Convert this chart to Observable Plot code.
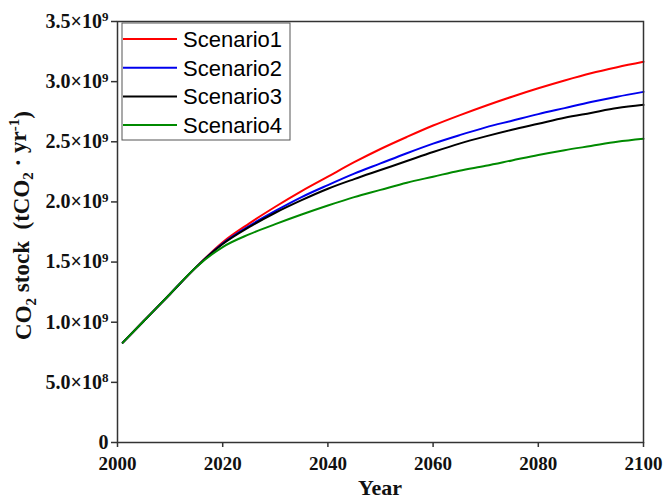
<!DOCTYPE html>
<html>
<head>
<meta charset="utf-8">
<script src="https://cdn.jsdelivr.net/npm/d3@7"></script>
<script src="https://cdn.jsdelivr.net/npm/@observablehq/plot@0.6"></script>
<style>
  html, body { margin: 0; padding: 0; background: #fff; }
  #chart svg { display: block; }
</style>
</head>
<body>
<div id="chart"></div>
<script>
// Data (CO2 stock, in units of 1e9 tCO2)
const years = [2001, 2005, 2010, 2015, 2020, 2025, 2030, 2035, 2040, 2045, 2050, 2055, 2060, 2065, 2070, 2075, 2080, 2085, 2090, 2095, 2100];
const scenario1 = [0.83, 1.01, 1.235, 1.46, 1.665, 1.82, 1.96, 2.09, 2.21, 2.33, 2.44, 2.54, 2.635, 2.72, 2.80, 2.875, 2.945, 3.01, 3.07, 3.12, 3.165];
const scenario2 = [0.83, 1.01, 1.235, 1.46, 1.655, 1.80, 1.925, 2.04, 2.14, 2.235, 2.32, 2.405, 2.485, 2.555, 2.62, 2.675, 2.73, 2.78, 2.83, 2.875, 2.915];
const scenario3 = [0.83, 1.01, 1.235, 1.46, 1.65, 1.79, 1.91, 2.015, 2.11, 2.19, 2.265, 2.34, 2.415, 2.485, 2.545, 2.60, 2.65, 2.70, 2.74, 2.78, 2.807];
const scenario4 = [0.83, 1.01, 1.235, 1.46, 1.625, 1.73, 1.815, 1.895, 1.97, 2.04, 2.10, 2.16, 2.21, 2.26, 2.30, 2.345, 2.39, 2.43, 2.465, 2.50, 2.525];
const seriesNames = ["Scenario1", "Scenario2", "Scenario3", "Scenario4"];
const seriesColors = ["#ff0000", "#0000ee", "#000000", "#008a00"];
const yTicks = [0, 0.5e9, 1.0e9, 1.5e9, 2.0e9, 2.5e9, 3.0e9, 3.5e9];
const yTickLabels = ["0", "5.0×10|8", "1.0×10|9", "1.5×10|9", "2.0×10|9", "2.5×10|9", "3.0×10|9", "3.5×10|9"];
const xTicks = [2000, 2020, 2040, 2060, 2080, 2100];

const allSeries = [scenario1, scenario2, scenario3, scenario4];
const table = [];
allSeries.forEach((vals, si) => {
  vals.forEach((v, i) => table.push({year: years[i], value: v * 1e9, series: seriesNames[si]}));
});

const W = 663, H = 502;
const mL = 117, mR = 20, mT = 21, mB = 60;
const serif = "'Liberation Serif', 'Times New Roman', serif";
const sans = "'Liberation Sans', Arial, sans-serif";

const plot = Plot.plot({
  width: W,
  height: H,
  marginLeft: mL,
  marginRight: mR,
  marginTop: mT,
  marginBottom: mB,
  style: {background: "#fff", overflow: "visible"},
  x: {domain: [2000, 2100]},
  y: {domain: [0, 3.5e9]},
  color: {domain: seriesNames, range: seriesColors},
  marks: [
    Plot.axisX({
      ticks: xTicks, tickFormat: d => String(d), tickSize: 5, tickPadding: 9,
      fontSize: 19, fontWeight: "bold", fontFamily: serif, fill: "#111",
      stroke: "#333", strokeWidth: 1.5, label: null
    }),
    Plot.axisY({
      ticks: yTicks, tickFormat: d => yTickLabels[yTicks.indexOf(d)], tickSize: 6, tickPadding: 3,
      fontSize: 20, fontWeight: "bold", fontFamily: serif, fill: "#111",
      stroke: "#333", strokeWidth: 1.5, label: null
    }),
    Plot.line(table, {x: "year", y: "value", stroke: "series", z: "series", strokeWidth: 2, curve: "monotone-x"}),
    Plot.frame({stroke: "#333", strokeWidth: 1.5})
  ]
});

document.getElementById("chart").appendChild(plot);
const svg = d3.select(plot);

// Superscript exponents in y tick labels
svg.selectAll("text").each(function() {
  const t = d3.select(this);
  const txt = this.textContent;
  if (txt.includes("|")) {
    const [base, exp] = txt.split("|");
    const tspans = t.selectAll("tspan");
    let target = tspans.empty() ? t : d3.select(tspans.nodes()[0]);
    target.text(base);
    target.append("tspan").attr("dy", "-0.5em").attr("font-size", 13).text(exp);
  }
});

// Y axis title
const yTitle = svg.append("text")
  .attr("transform", `translate(31,${(mT + H - mB) / 2 - 6}) rotate(-90)`)
  .attr("text-anchor", "middle")
  .attr("font-family", serif)
  .attr("font-weight", "bold")
  .attr("font-size", 23)
  .attr("fill", "#111");
yTitle.append("tspan").text("CO");
yTitle.append("tspan").attr("font-size", 15).attr("dy", "0.3em").text("2");
yTitle.append("tspan").attr("dy", "-0.3em").text(" stock  (tCO");
yTitle.append("tspan").attr("font-size", 15).attr("dy", "0.3em").text("2");
yTitle.append("tspan").attr("dy", "-0.3em").text(" · yr");
yTitle.append("tspan").attr("font-size", 15).attr("dy", "-0.5em").text("-1");
yTitle.append("tspan").attr("dy", "0.5em").text(")");

// X axis title
svg.append("text")
  .attr("x", mL + (W - mL - mR) / 2)
  .attr("y", H - 7)
  .attr("text-anchor", "middle")
  .attr("font-family", serif)
  .attr("font-weight", "bold")
  .attr("font-size", 22)
  .attr("fill", "#111")
  .text("Year");

// Legend
const lg = svg.append("g").attr("text-anchor", "start");
lg.append("rect")
  .attr("x", mL + 5).attr("y", mT + 2)
  .attr("width", 168).attr("height", 117)
  .attr("fill", "#fff").attr("stroke", "#555").attr("stroke-width", 1);
seriesNames.forEach((name, i) => {
  const yy = mT + 18 + i * 28.7;
  lg.append("line")
    .attr("x1", mL + 6).attr("x2", mL + 60)
    .attr("y1", yy).attr("y2", yy)
    .attr("stroke", seriesColors[i]).attr("stroke-width", 2);
  lg.append("text")
    .attr("x", mL + 66).attr("y", yy)
    .attr("dy", "0.36em")
    .attr("text-anchor", "start")
    .attr("font-family", sans)
    .attr("font-size", 22)
    .attr("fill", "#000")
    .text(name);
});
</script>
</body>
</html>
